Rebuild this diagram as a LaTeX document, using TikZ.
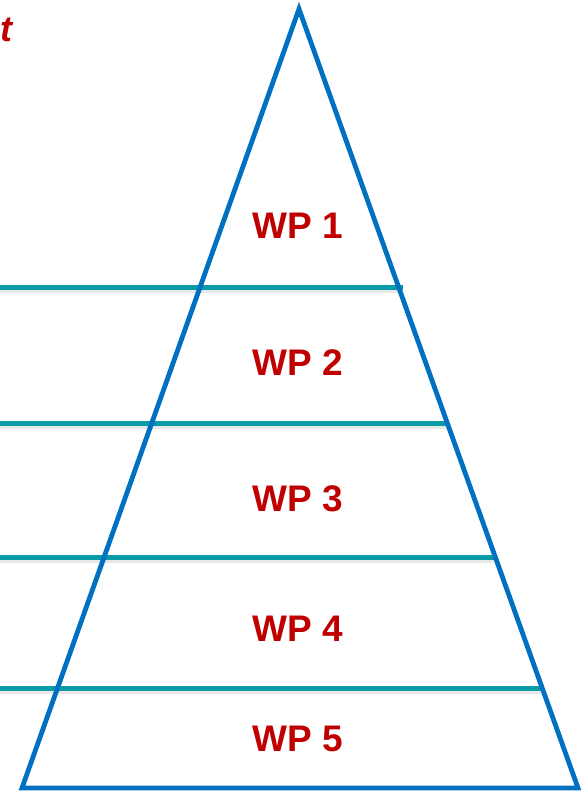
\documentclass[tikz,border=0pt]{standalone}
\usepackage{fontspec}
\setmainfont{Liberation Sans}
\definecolor{wpred}{HTML}{C00000}
\definecolor{pyrblue}{HTML}{0070C0}
\definecolor{septeal}{HTML}{0A9BA8}
\begin{document}
\begin{tikzpicture}[x=1pt,y=-1pt,
  wplabel/.style={text=wpred,font=\bfseries\fontsize{37}{41}\selectfont,inner sep=0pt},
  sepline/.style={draw=septeal,line width=5pt},
  sepshadow/.style={draw=black!30,line width=5pt,opacity=0.3},
  pyr/.style={draw=pyrblue,line width=4.8pt,line join=miter}]
\useasboundingbox (0,0) rectangle (580,791);
\coordinate (apex) at (299,9);
\coordinate (bl) at (22,788);
\coordinate (br) at (578,788);
% separator lines
\foreach \y/\xr [count=\i] in {287/403,423/449,557/494,688/541}{
  \coordinate (s\i l) at (0,\y);
  \coordinate (s\i r) at (\xr,\y);
  \draw[sepshadow] ([yshift=-3.5]s\i l) -- ([yshift=-3.5]s\i r);
  \draw[sepline] (s\i l) -- (s\i r);
}
\draw[pyr] (apex) -- (br) -- (bl) -- cycle;
\node[wplabel] (wp1) at (298,226) {WP 1};
\node[wplabel] (wp2) at (298,363) {WP 2};
\node[wplabel] (wp3) at (298,498.5) {WP 3};
\node[wplabel] (wp4) at (298,628.5) {WP 4};
\node[wplabel] (wp5) at (298,738.5) {WP 5};
\node[text=wpred,font=\bfseries\itshape\fontsize{36}{40}\selectfont,inner sep=0pt,anchor=west] (tword) at (0,30) {t};
\end{tikzpicture}
\end{document}
